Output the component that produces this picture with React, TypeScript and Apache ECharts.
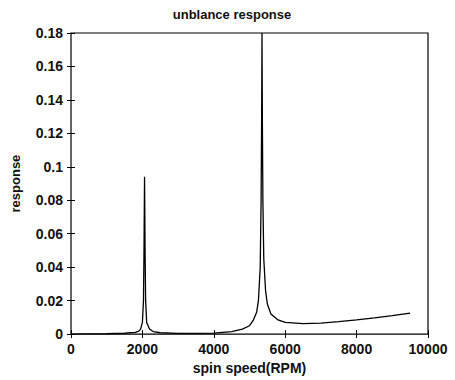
import React, { useEffect, useRef } from "react";
import * as echarts from "echarts";

const title = "unblance response";
const xName = "spin speed(RPM)";
const yName = "response";

const rpm = [
  0, 500, 1000, 1500, 1800, 1900, 1950, 2000, 2030, 2045, 2060, 2075, 2090, 2120, 2200, 2300, 2500,
  3000, 3500, 4000, 4500, 4800, 5000, 5100, 5200, 5250, 5300, 5325, 5340, 5350, 5360, 5375, 5400,
  5450, 5500, 5600, 5800, 6000, 6500, 7000, 7500, 8000, 8500, 9000, 9500,
];
const response = [
  0, 0.0001, 0.0002, 0.0005, 0.001, 0.0018, 0.003, 0.007, 0.02, 0.05, 0.094, 0.05, 0.02, 0.007,
  0.003, 0.0015, 0.0008, 0.0004, 0.0004, 0.0006, 0.0015, 0.003, 0.005, 0.008, 0.013, 0.02, 0.04,
  0.08, 0.13, 0.18, 0.13, 0.08, 0.045, 0.026, 0.018, 0.012, 0.0085, 0.007, 0.0063, 0.0066, 0.0075,
  0.0085, 0.0097, 0.011, 0.0125,
];

const xTicks = [0, 2000, 4000, 6000, 8000, 10000];
const yTicks = [0, 0.02, 0.04, 0.06, 0.08, 0.1, 0.12, 0.14, 0.16, 0.18];

export default function App() {
  const ref = useRef<HTMLDivElement>(null);
  useEffect(() => {
    if (!ref.current) return;
    const chart = echarts.init(ref.current, undefined, { renderer: "svg" });
    const font = "Liberation Sans";
    const axisCommon = {
      axisLine: { show: false },
      splitLine: { show: false },
      axisTick: { show: true, inside: true, length: 4, lineStyle: { color: "#000", width: 1 } },
    };
    chart.setOption({
      animation: false,
      backgroundColor: "#fff",
      title: {
        text: title,
        left: 227,
        textAlign: "center",
        top: 3,
        textStyle: { fontFamily: font, fontSize: 13, fontWeight: "bold", color: "#111" },
      },
      grid: {
        left: 71,
        right: 27,
        top: 33,
        bottom: 43,
        show: true,
        borderColor: "#000",
        borderWidth: 1.2,
        backgroundColor: "transparent",
      },
      xAxis: [
        {
          type: "value",
          min: 0,
          max: xTicks[xTicks.length - 1],
          interval: 2000,
          name: xName,
          nameLocation: "middle",
          nameGap: 24,
          nameTextStyle: { fontFamily: font, fontSize: 14, fontWeight: "bold", color: "#111" },
          axisLabel: {
            fontFamily: font,
            fontSize: 14,
            fontWeight: "bold",
            color: "#111",
            margin: 8,
            formatter: (v: number) => String(v),
          },
          ...axisCommon,
        },
        {
          type: "value",
          position: "top",
          min: 0,
          max: xTicks[xTicks.length - 1],
          interval: 2000,
          axisLabel: { show: false },
          ...axisCommon,
        },
      ],
      yAxis: [
        {
          type: "value",
          min: 0,
          max: yTicks[yTicks.length - 1],
          interval: 0.02,
          name: yName,
          nameLocation: "middle",
          nameGap: 49,
          nameTextStyle: { fontFamily: font, fontSize: 13, fontWeight: "bold", color: "#111" },
          axisLabel: {
            fontFamily: font,
            fontSize: 14,
            fontWeight: "bold",
            color: "#111",
            margin: 8,
            formatter: (v: number) => String(Math.round(v * 100) / 100),
          },
          ...axisCommon,
        },
        {
          type: "value",
          position: "right",
          min: 0,
          max: yTicks[yTicks.length - 1],
          interval: 0.02,
          axisLabel: { show: false },
          ...axisCommon,
        },
      ],
      series: [
        {
          type: "line",
          data: rpm.map((x, i) => [x, response[i]]),
          showSymbol: false,
          symbol: "none",
          lineStyle: { color: "#000", width: 1.3 },
          clip: true,
        },
      ],
    });
    return () => chart.dispose();
  }, []);
  return <div ref={ref} style={{ width: 455, height: 380, position: "absolute", left: 0, top: 0 }} />;
}
